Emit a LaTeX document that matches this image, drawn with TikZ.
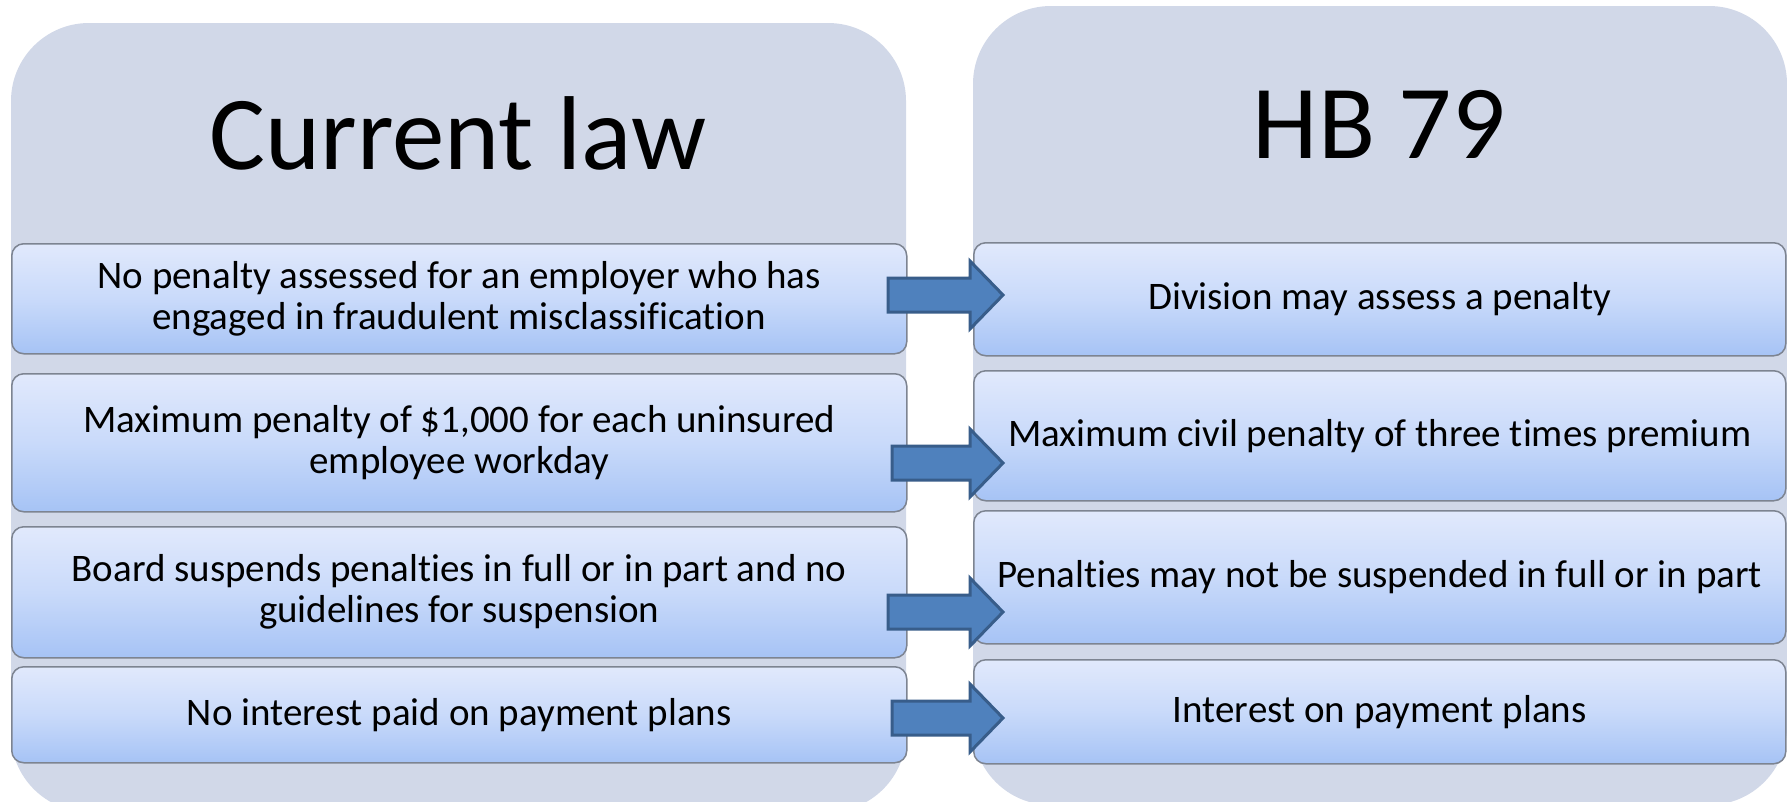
\documentclass[tikz,border=0pt]{standalone}
\usepackage{fontspec}
\setmainfont{Carlito}[Ligatures=NoCommon]
\definecolor{panel}{HTML}{D1D8E8}
\definecolor{boxtop}{HTML}{E1E9FC}
\definecolor{boxmid}{HTML}{C9DAFA}
\definecolor{boxbot}{HTML}{A6C3F5}
\definecolor{boxline}{HTML}{7D8491}
\definecolor{arrfill}{HTML}{4F81BD}
\definecolor{arrline}{HTML}{385D8A}
\tikzset{
  panelbox/.style={fill=panel, rounded corners=78pt},
  itembox/.style={rectangle, draw=boxline, line width=1.5pt, rounded corners=12pt,
    top color=boxtop, bottom color=boxbot, middle color=boxmid,
    inner sep=0pt, align=center, anchor=north west,
    font=\fontsize{39}{41}\selectfont},
  titletext/.style={font=\fontsize{105}{110}\selectfont, inner sep=0pt},
  blockarrow/.style={fill=arrfill, draw=arrline, line width=3pt, line join=miter}
}
\newcommand\blockarr[3]{% name, left x, centre y
  \coordinate (#1) at (#2,#3);
  \draw[blockarrow] ([yshift=17pt]#1) -- ([yshift=17pt]#1 -| 970,0) -- ([yshift=34pt]#1 -| 970,0)
    -- (#1 -| 1003,0) -- ([yshift=-34pt]#1 -| 970,0) -- ([yshift=-17pt]#1 -| 970,0)
    -- ([yshift=-17pt]#1) -- cycle;}
\begin{document}
\begin{tikzpicture}[x=1pt,y=-1pt]
\useasboundingbox (0,0) rectangle (1787,801);
\fill[white] (0,0) rectangle (1787,801);
% panels
\fill[panelbox] (11,23) rectangle (906,812);
\fill[panelbox] (973,6) rectangle (1787,805);
% titles
\node[titletext] (tl) at (458,133.5) {Current law};
\node[titletext] (tr) at (1379,124.5) {HB 79};
% left boxes
\node[itembox, minimum width=895pt, minimum height=110pt] (L1) at (11,243)
  {No penalty assessed for an employer who has\\engaged in fraudulent misclassification};
\node[itembox, minimum width=895pt, minimum height=138pt] (L2) at (11,373)
  {Maximum penalty of \$1,000 for each uninsured\\employee workday};
\node[itembox, minimum width=895pt, minimum height=131pt] (L3) at (11,526)
  {Board suspends penalties in full or in part and no\\guidelines for suspension};
\node[itembox, minimum width=895pt, minimum height=96pt] (L4) at (11,666)
  {No interest paid on payment plans};
% right boxes
\node[itembox, minimum width=812pt, minimum height=113pt] (R1) at (973,242)
  {Division may assess a penalty};
\node[itembox, minimum width=812pt, minimum height=130pt] (R2) at (973,370)
  {Maximum civil penalty of three times premium};
\node[itembox, minimum width=812pt, minimum height=133pt] (R3) at (973,510)
  {Penalties may not be suspended in full or in part};
\node[itembox, minimum width=812pt, minimum height=104pt] (R4) at (973,659)
  {Interest on payment plans};
% arrows
\blockarr{a1}{888}{295}
\blockarr{a2}{892}{463}
\blockarr{a3}{888}{612}
\blockarr{a4}{892}{718}
\end{tikzpicture}
\end{document}
